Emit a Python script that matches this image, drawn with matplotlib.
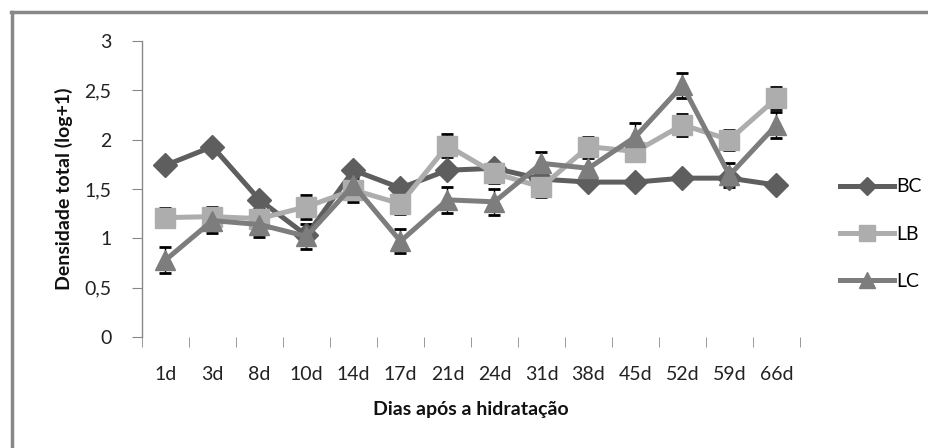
import numpy as np
import matplotlib
matplotlib.use('Agg')
import matplotlib.pyplot as plt
from matplotlib.lines import Line2D
from matplotlib.ticker import FixedLocator, FuncFormatter

plt.rcParams['font.family'] = ['Lato', 'DejaVu Sans']

dias = ['1d', '3d', '8d', '10d', '14d', '17d', '21d', '24d', '31d', '38d',
        '45d', '52d', '59d', '66d']

bc = [1.74, 1.93, 1.39, 1.03, 1.69, 1.51, 1.69, 1.71, 1.60, 1.57, 1.57, 1.61, 1.61, 1.54]
bc_err = [0.03, 0.04, 0.04, 0.03, 0.04, 0.03, 0.03, 0.03, 0.03, 0.03, 0.03, 0.03, 0.03, 0.03]

lb = [1.21, 1.22, 1.20, 1.32, 1.49, 1.35, 1.94, 1.66, 1.52, 1.93, 1.88, 2.15, 2.00, 2.42]
lb_err = [0.10, 0.10, 0.10, 0.12, 0.12, 0.10, 0.12, 0.10, 0.10, 0.10, 0.10, 0.11, 0.10, 0.11]

lc = [0.78, 1.18, 1.14, 1.02, 1.54, 0.97, 1.39, 1.37, 1.76, 1.71, 2.03, 2.55, 1.64, 2.15]
lc_err = [0.13, 0.13, 0.13, 0.13, 0.12, 0.12, 0.13, 0.13, 0.11, 0.10, 0.14, 0.13, 0.12, 0.13]

series = [
    ('BC', bc, bc_err, '#5e5e5e', 'D', 12),
    ('LB', lb, lb_err, '#adadad', 's', 15),
    ('LC', lc, lc_err, '#7d7d7d', '^', 15),
]

fig = plt.figure(figsize=(9.29, 4.48), dpi=100)
ax = fig.add_axes([142 / 929, 1 - 337 / 448, 658 / 929, 296 / 448])

x = np.arange(len(dias))
for nome, vals, err, cor, mk, ms in series:
    ax.errorbar(x, vals, yerr=err, fmt='none', ecolor='black', elinewidth=1,
                capsize=4, capthick=2, zorder=2)
    ax.plot(x, vals, color=cor, lw=3.6, marker=mk, ms=ms, label=nome, zorder=3)

ax.set_xlim(-0.5, len(dias) - 0.5)
ax.set_ylim(0, 3)
ax.set_yticks([0, 0.5, 1, 1.5, 2, 2.5, 3])
ax.yaxis.set_major_formatter(FuncFormatter(lambda v, p: ('%g' % v).replace('.', ',')))
ax.set_xticks(x)
ax.set_xticklabels(dias)
ax.xaxis.set_minor_locator(FixedLocator(np.arange(-0.5, len(dias), 1.0)))

for s in ['top', 'right', 'bottom']:
    ax.spines[s].set_visible(False)
ax.spines['left'].set_color('#888888')
ax.spines['left'].set_linewidth(1)

ax.tick_params(axis='y', length=7, color='#888888', pad=15, labelsize=14,
               labelcolor='#222222')
ax.tick_params(axis='x', which='major', length=0, pad=21, labelsize=14,
               labelcolor='#222222')
ax.tick_params(axis='x', which='minor', length=7, color='#888888', direction='out')

ax.set_xlabel('Dias após a hidratação', fontsize=14, fontweight='bold',
              color='#111111', labelpad=13)
ax.set_ylabel('Densidade total (log+1)', fontsize=14, fontweight='bold',
              color='#111111', labelpad=8)

ax.legend(loc='center left', bbox_to_anchor=(840 / 929, 1 - 234 / 448),
          bbox_transform=fig.transFigure, frameon=False, fontsize=14,
          handlelength=2.8, handletextpad=0.1, labelspacing=1.55,
          borderpad=0, borderaxespad=0, markerscale=0.8)

# moldura cinza do grafico
fig.add_artist(Line2D([11 / 929, 1], [1 - 12 / 448, 1 - 12 / 448],
                      color='#888888', lw=2.5, transform=fig.transFigure))
fig.add_artist(Line2D([12 / 929, 12 / 929], [0, 1 - 12 / 448],
                      color='#888888', lw=2.5, transform=fig.transFigure))

fig.savefig('out.png', dpi=100)
